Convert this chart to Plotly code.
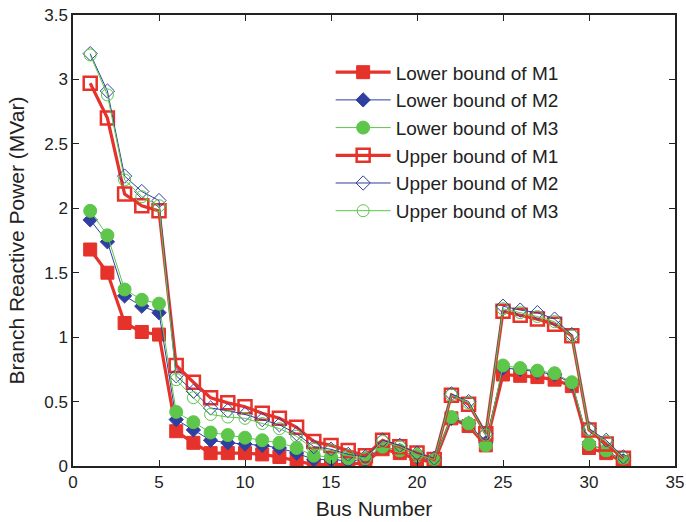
import plotly.graph_objects as go

buses = list(range(1, 33))

lower_m1 = [1.68, 1.50, 1.11, 1.04, 1.02, 0.27, 0.18, 0.10, 0.10, 0.10, 0.09, 0.07, 0.04, 0.01, 0.01, 0.01,
            0.03, 0.13, 0.10, 0.05, 0.03, 0.37, 0.31, 0.16, 0.71, 0.70, 0.69, 0.67, 0.62, 0.14, 0.10, 0.03]
lower_m2 = [1.91, 1.74, 1.32, 1.24, 1.19, 0.36, 0.28, 0.20, 0.18, 0.17, 0.16, 0.14, 0.10, 0.05, 0.05, 0.04,
            0.05, 0.15, 0.12, 0.07, 0.04, 0.37, 0.33, 0.18, 0.76, 0.75, 0.73, 0.71, 0.64, 0.17, 0.12, 0.04]
lower_m3 = [1.98, 1.79, 1.37, 1.29, 1.26, 0.42, 0.34, 0.26, 0.24, 0.22, 0.20, 0.18, 0.14, 0.08, 0.07, 0.06,
            0.06, 0.15, 0.12, 0.08, 0.04, 0.38, 0.33, 0.16, 0.78, 0.76, 0.74, 0.72, 0.65, 0.17, 0.12, 0.03]
upper_m1 = [2.97, 2.70, 2.11, 2.02, 1.98, 0.78, 0.65, 0.53, 0.49, 0.46, 0.41, 0.37, 0.30, 0.19, 0.16, 0.12,
            0.08, 0.20, 0.15, 0.10, 0.05, 0.55, 0.48, 0.25, 1.20, 1.17, 1.14, 1.10, 1.01, 0.28, 0.17, 0.06]
upper_m2 = [3.20, 2.91, 2.25, 2.13, 2.06, 0.70, 0.58, 0.45, 0.43, 0.40, 0.36, 0.32, 0.25, 0.15, 0.13, 0.09,
            0.07, 0.20, 0.16, 0.10, 0.06, 0.56, 0.50, 0.25, 1.24, 1.21, 1.19, 1.14, 1.02, 0.29, 0.20, 0.07]
upper_m3 = [3.19, 2.88, 2.22, 2.09, 2.02, 0.67, 0.53, 0.40, 0.38, 0.37, 0.33, 0.29, 0.23, 0.13, 0.12, 0.08,
            0.06, 0.19, 0.15, 0.09, 0.05, 0.55, 0.49, 0.24, 1.22, 1.19, 1.16, 1.12, 1.01, 0.28, 0.19, 0.06]

RED = "#E5322B"
BLUE = "#2F3FA0"
GREEN = "#5DC64B"

series = [
    ("Lower bound of M1", lower_m1, RED, "square", 13, 3.2, RED, 1),
    ("Lower bound of M2", lower_m2, BLUE, "diamond", 11, 1, BLUE, 1),
    ("Lower bound of M3", lower_m3, GREEN, "circle", 13, 1, GREEN, 1),
    ("Upper bound of M1", upper_m1, RED, "square-open", 13, 3.2, RED, 2.5),
    ("Upper bound of M2", upper_m2, BLUE, "diamond-open", 11, 1, BLUE, 1),
    ("Upper bound of M3", upper_m3, GREEN, "circle-open", 12, 1, GREEN, 1),
]

fig = go.Figure()
for name, vals, color, sym, msize, lw, mcol, mlw in series:
    fig.add_trace(go.Scatter(
        x=buses, y=vals, name=name, mode="lines+markers",
        line=dict(color=color, width=lw),
        marker=dict(symbol=sym, size=msize, color=mcol,
                    line=dict(color=mcol, width=mlw)),
    ))

axis_common = dict(
    showgrid=False, zeroline=False, showline=True, linecolor="#222222", linewidth=1.5,
    mirror="ticks", ticks="inside", ticklen=6, tickcolor="#222222",
    tickfont=dict(size=17, color="#222222"), ticklabeloverflow="allow",
)

fig.update_layout(
    width=686, height=522,
    margin=dict(l=73, r=2, t=15, b=56),
    paper_bgcolor="white", plot_bgcolor="white",
    font=dict(family="Liberation Sans, Arial, sans-serif", color="#222222"),
    xaxis=dict(range=[0, 35], tickvals=[0, 5, 10, 15, 20, 25, 30, 35],
               title=dict(text="Bus Number", font=dict(size=21), standoff=10), **axis_common),
    yaxis=dict(range=[0, 3.5], tickvals=[0, 0.5, 1, 1.5, 2, 2.5, 3, 3.5],
               ticktext=["0", "0.5", "1", "1.5", "2", "2.5", "3", "3.5"],
               title=dict(text="Branch Reactive Power (MVar)", font=dict(size=21), standoff=14),
               **axis_common),
    legend=dict(x=0.428, y=0.915, xanchor="left", yanchor="top",
                bgcolor="rgba(255,255,255,0)", borderwidth=0,
                font=dict(size=19, color="#222222"), itemwidth=55,
                tracegroupgap=0),
    showlegend=True,
)

fig.write_html("out.html")
